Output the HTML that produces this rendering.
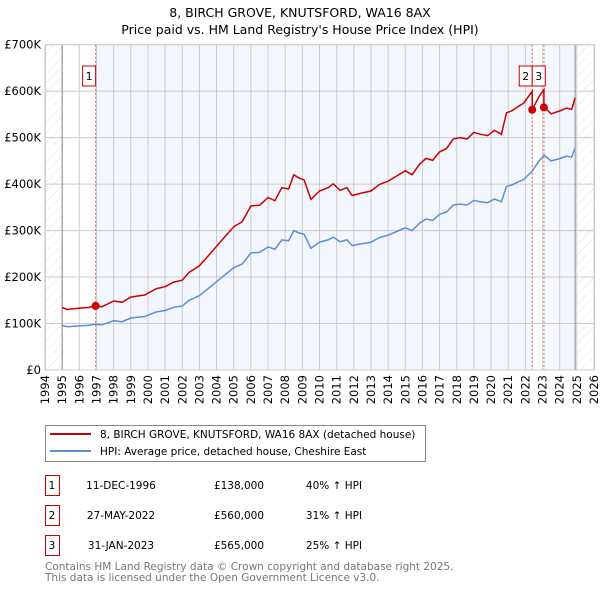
<!DOCTYPE html>
<html><head><meta charset="utf-8"><style>
body{margin:0;background:#fff;font-family:"DejaVu Sans","Liberation Sans",sans-serif;}
svg text{font-family:"DejaVu Sans","Liberation Sans",sans-serif;}
</style></head><body>
<svg id="chart" width="600" height="590" xmlns="http://www.w3.org/2000/svg">
<text x="300" y="17" text-anchor="middle" font-size="12.5">8, BIRCH GROVE, KNUTSFORD, WA16 8AX</text>
<text x="300" y="34" text-anchor="middle" font-size="12.5">Price paid vs. HM Land Registry's House Price Index (HPI)</text>
<g id="plot"></g>
<g>
<rect x="45.5" y="425.5" width="380" height="36" fill="#fff" stroke="#888"/>
<line x1="50" y1="434" x2="91" y2="434" stroke="#cc0000" stroke-width="2"/>
<text x="100" y="438" font-size="10.5">8, BIRCH GROVE, KNUTSFORD, WA16 8AX (detached house)</text>
<line x1="50" y1="451" x2="91" y2="451" stroke="#5b8fd4" stroke-width="2"/>
<text x="100" y="455" font-size="10.5">HPI: Average price, detached house, Cheshire East</text>
</g>
<g id="table" font-size="10.5"></g>
<text x="45" y="570" font-size="10.5" fill="#777">Contains HM Land Registry data © Crown copyright and database right 2025.</text>
<text x="45" y="581" font-size="10.5" fill="#777">This data is licensed under the Open Government Licence v3.0.</text>
</svg>
<script>
const yearTicks=[1994,1995,1996,1997,1998,1999,2000,2001,2002,2003,2004,2005,2006,2007,2008,2009,2010,2011,2012,2013,2014,2015,2016,2017,2018,2019,2020,2021,2022,2023,2024,2025,2026];
const valueTicks=[0,100000,200000,300000,400000,500000,600000,700000];
const valueLabels=["£0","£100K","£200K","£300K","£400K","£500K","£600K","£700K"];
const hpiYears=[1995,1995.3,1995.7,1996,1996.5,1996.95,1997.3,1997.7,1998,1998.5,1999,1999.5,1999.8,2000,2000.5,2001,2001.5,2002,2002.4,2002.7,2003,2003.5,2004,2004.5,2005,2005.5,2006,2006.5,2006.8,2007,2007.4,2007.8,2008.2,2008.5,2008.8,2009.1,2009.5,2010,2010.5,2010.8,2011.2,2011.6,2011.9,2012.5,2013,2013.5,2014,2014.5,2015,2015.4,2015.8,2016.2,2016.6,2017,2017.4,2017.8,2018.2,2018.6,2019,2019.4,2019.8,2020.2,2020.6,2020.9,2021.2,2021.6,2021.9,2022.4,2022.8,2023.1,2023.5,2024,2024.4,2024.7,2024.9];
const hpiValues=[96000,93000,94000,95000,96000,98500,97000,102000,106000,104000,112000,114000,115000,118000,125000,128000,135000,138000,150000,155000,160000,175000,190000,205000,220000,228000,252000,253000,260000,265000,260000,280000,278000,300000,295000,292000,262000,275000,280000,286000,276000,280000,268000,272000,275000,285000,290000,298000,306000,300000,315000,325000,322000,335000,340000,355000,357000,355000,365000,362000,360000,368000,362000,395000,398000,405000,410000,428000,450000,462000,450000,455000,460000,458000,478000];
const saleYears=[1996.95,2022.4,2023.08];
const salePrices=[138000,560000,565000];
const saleLabels=["1","2","3"];
const saleDates=["11-DEC-1996","27-MAY-2022","31-JAN-2023"];
const salePriceText=["£138,000","£560,000","£565,000"];
const saleHpiText=["40% ↑ HPI","31% ↑ HPI","25% ↑ HPI"];

const NS="http://www.w3.org/2000/svg";
const L=45,R=594,T=44.7,B=370;
const x=v=>L+(v-1994)*(R-L)/32;
const y=v=>B-v*(B-T)/700000;
const plot=document.getElementById('plot');
function mk(tag,attrs,parent){const e=document.createElementNS(NS,tag);for(const k in attrs)e.setAttribute(k,attrs[k]);(parent||plot).appendChild(e);return e;}
function hpiAt(t){for(let i=1;i<hpiYears.length;i++){if(t<=hpiYears[i]){const f=(t-hpiYears[i-1])/(hpiYears[i]-hpiYears[i-1]);return hpiValues[i-1]+f*(hpiValues[i]-hpiValues[i-1]);}}return hpiValues[hpiValues.length-1];}
const defs=mk('defs',{});
const pat=mk('pattern',{id:'hatch',width:7,height:7,patternUnits:'userSpaceOnUse',patternTransform:'rotate(45)'},defs);
mk('line',{x1:0,y1:0,x2:0,y2:7,stroke:'#ddd','stroke-width':0.8},pat);
const hpiEnd=hpiYears[hpiYears.length-1];
let e=mk('rect',{x:L,y:T,width:x(1995)-L,height:B-T,fill:'url(#hatch)'});

e=mk('rect',{x:x(hpiEnd),y:T,width:R-x(hpiEnd),height:B-T,fill:'url(#hatch)'});

e=mk('rect',{x:x(saleYears[0]),y:T,width:x(saleYears[1])-x(saleYears[0]),height:B-T,fill:'#eef3fc',opacity:0.7});

e=mk('rect',{x:x(saleYears[2]),y:T,width:x(hpiEnd)-x(saleYears[2]),height:B-T,fill:'#eef3fc',opacity:0.7});

yearTicks.forEach(t=>{const g=mk('line',{x1:x(t),x2:x(t),y1:T,y2:B,stroke:'#ccc','stroke-width':1});

const lb=mk('text',{x:0,y:0,transform:`translate(${x(t)+4},${B+5}) rotate(-90)`,'text-anchor':'end','font-size':11.5});lb.textContent=t;
});
valueTicks.forEach((v,i)=>{const g=mk('line',{x1:L,x2:R,y1:y(v),y2:y(v),stroke:'#ccc','stroke-width':1});

const lb=mk('text',{x:L-4,y:y(v)+4,'text-anchor':'end','font-size':11.5});lb.textContent=valueLabels[i];
});
e=mk('line',{x1:x(1995),x2:x(1995),y1:T,y2:B,stroke:'#888'});
e=mk('line',{x1:x(hpiEnd),x2:x(hpiEnd),y1:T,y2:B,stroke:'#888'});
saleYears.forEach((s,i)=>{const l=mk('line',{x1:x(s),x2:x(s),y1:T,y2:B,stroke:'#e06060','stroke-dasharray':'2,2'});
});
let d=hpiYears.map((t,i)=>(i?'L':'M')+x(t).toFixed(1)+','+y(hpiValues[i]).toFixed(1)).join('');
e=mk('path',{d:d,fill:'none',stroke:'#5b8fd4','stroke-width':1.5});

const ts=hpiYears.concat(saleYears).sort((a,b)=>a-b);
const rp=[];
ts.forEach(t=>{for(let i=1;i<saleYears.length;i++)if(t===saleYears[i])rp.push([t,hpiAt(t)*salePrices[i-1]/hpiAt(saleYears[i-1])]);
let k=0;for(let i=0;i<saleYears.length;i++)if(t>=saleYears[i])k=i;rp.push([t,hpiAt(t)*salePrices[k]/hpiAt(saleYears[k])]);});
d=rp.map((p,i)=>(i?'L':'M')+x(p[0]).toFixed(1)+','+y(p[1]).toFixed(1)).join('');
e=mk('path',{d:d,fill:'none',stroke:'#cc0000','stroke-width':1.5});

saleYears.forEach((s,i)=>{const c=mk('circle',{cx:x(s),cy:y(salePrices[i]),r:4,fill:'#cc0000'});

const bx=i===2?x(saleYears[1]):x(s)-13;
const r=mk('rect',{x:bx,y:66,width:13,height:20,fill:'#fff',stroke:'#cc0000'});

const tx=mk('text',{x:bx+6.5,y:80,'text-anchor':'middle','font-size':11});tx.textContent=saleLabels[i];
});
e=mk('rect',{x:L+0.5,y:T,width:R-L,height:B-T,fill:'none',stroke:'#ccc'});

const tb=document.getElementById('table');
saleLabels.forEach((lab,i)=>{const yy=475+i*30;
const r=mk('rect',{x:45.5,y:yy+0.5,width:14,height:20,fill:'#fff',stroke:'#cc0000'},tb);

const vals=[[52,lab,'middle'],[121,saleDates[i],'middle'],[239,salePriceText[i],'middle'],[334,saleHpiText[i],'middle']];
const names=['number','date','price','hpi-diff'];
vals.forEach((v,j)=>{const t=mk('text',{x:v[0],y:yy+14,'text-anchor':v[2]},tb);t.textContent=v[1];
});});
</script>
</body></html>
